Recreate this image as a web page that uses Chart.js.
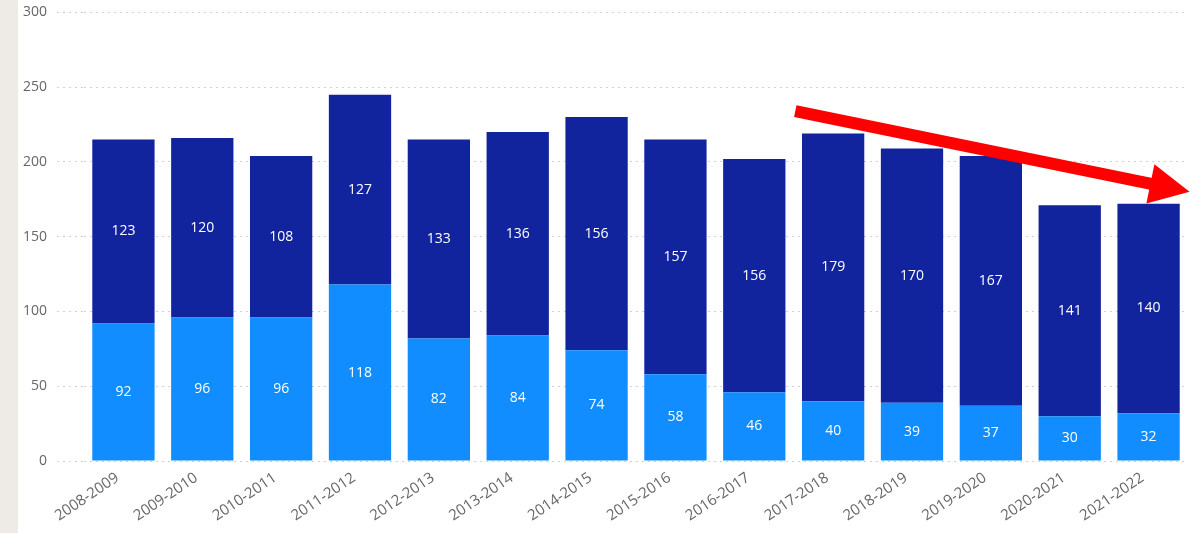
<!DOCTYPE html>
<html>
<head>
<meta charset="utf-8">
<script src="https://cdn.jsdelivr.net/npm/chart.js@4/dist/chart.umd.min.js"></script>
<style>
  html, body { margin: 0; padding: 0; background: #fff; overflow: hidden; }
  #franja { position: absolute; left: 0; top: 0; width: 18px; height: 533px; background: #eeebe7; }
  #contenedor { position: absolute; left: 18px; top: -6px; width: 1180px; height: 539px; }
</style>
</head>
<body>
<div id="franja"></div>
<div id="contenedor"><canvas id="grafico"></canvas></div>
<script>
// datos
const periodos = ['2008-2009', '2009-2010', '2010-2011', '2011-2012', '2012-2013', '2013-2014', '2014-2015',
                  '2015-2016', '2016-2017', '2017-2018', '2018-2019', '2019-2020', '2020-2021', '2021-2022']
const serieInferior = [92, 96, 96, 118, 82, 84, 74, 58, 46, 40, 39, 37, 30, 32]
const serieSuperior = [123, 120, 108, 127, 133, 136, 156, 157, 156, 179, 170, 167, 141, 140]
const ticksY = [0, 50, 100, 150, 200, 250, 300]

// flecha roja: [indice categoria, valor] inicio y punta
const flechaInicio = [8.52, 234]
const flechaFin = [13.52, 180]

const fuente = "'Segoe UI', 'Open Sans', sans-serif"

// etiquetas blancas centradas en cada segmento
const etiquetasPlugin = {
    id: 'etiquetas',
    afterDatasetsDraw(chart) {
        const ctx = chart.ctx
        ctx.save()
        ctx.fillStyle = '#ffffff'
        ctx.font = '14px ' + fuente
        ctx.textAlign = 'center'
        ctx.textBaseline = 'middle'
        chart.data.datasets.forEach((ds, i) => {
            chart.getDatasetMeta(i).data.forEach((bar, j) => {
                const y = (bar.y + bar.base) / 2
                ctx.fillText(String(ds.data[j]), bar.x, y)
            })
        })
        ctx.restore()
    }
}

//flecha de tendencia
const flechaPlugin = {
    id: 'flecha',
    afterDraw(chart) {
        const x = chart.scales.x, y = chart.scales.y
        const x0 = x.getPixelForValue(flechaInicio[0]), y0 = y.getPixelForValue(flechaInicio[1])
        const x1 = x.getPixelForValue(flechaFin[0]), y1 = y.getPixelForValue(flechaFin[1])
        const ang = Math.atan2(y1 - y0, x1 - x0)
        const largoPunta = 40, anchoPunta = 20
        const bx = x1 - largoPunta * Math.cos(ang), by = y1 - largoPunta * Math.sin(ang)
        const ctx = chart.ctx
        ctx.save()
        ctx.strokeStyle = '#ff0000'
        ctx.fillStyle = '#ff0000'
        ctx.lineWidth = 12
        ctx.beginPath()
        ctx.moveTo(x0, y0)
        ctx.lineTo(bx + 2 * Math.cos(ang), by + 2 * Math.sin(ang))
        ctx.stroke()
        ctx.beginPath()
        ctx.moveTo(x1, y1)
        ctx.lineTo(bx + anchoPunta * Math.sin(ang), by - anchoPunta * Math.cos(ang))
        ctx.lineTo(bx - anchoPunta * Math.sin(ang), by + anchoPunta * Math.cos(ang))
        ctx.closePath()
        ctx.fill()
        ctx.restore()
    }
}

new Chart(document.getElementById('grafico'), {
    type: 'bar',
    data: {
        labels: periodos,
        datasets: [
            { label: 'inferior', data: serieInferior, backgroundColor: '#118DFF' },
            { label: 'superior', data: serieSuperior, backgroundColor: '#12239E' }
        ]
    },
    options: {
        responsive: true,
        maintainAspectRatio: false,
        animation: false,
        layout: { padding: { top: 4, right: 10, left: 0, bottom: 0 } },
        datasets: { bar: { categoryPercentage: 0.79, barPercentage: 1 } },
        scales: {
            x: {
                stacked: true,
                grid: { display: false },
                border: { display: false },
                ticks: {
                    autoSkip: false,
                    maxRotation: 34,
                    minRotation: 34,
                    padding: 0,
                    labelOffset: -6,
                    color: '#666',
                    font: { family: fuente, size: 15 }
                },
                afterFit: (scale) => { scale.height = 72 }
            },
            y: {
                stacked: true,
                min: 0,
                max: 300,
                afterBuildTicks: (scale) => { scale.ticks = ticksY.map(v => ({ value: v })) },
                grid: {
                    color: '#cfcfcf',
                    lineWidth: 1,
                    tickBorderDash: [2, 4],
                    drawTicks: true,
                    tickLength: 27
                },
                border: { display: false, dash: [2, 4] },
                ticks: {
                    padding: 10,
                    color: '#666',
                    font: { family: fuente, size: 14 }
                },
                afterFit: (scale) => { scale.width = 66 }
            }
        },
        plugins: {
            legend: { display: false },
            tooltip: { enabled: false }
        }
    },
    plugins: [etiquetasPlugin, flechaPlugin]
})
</script>
</body>
</html>
